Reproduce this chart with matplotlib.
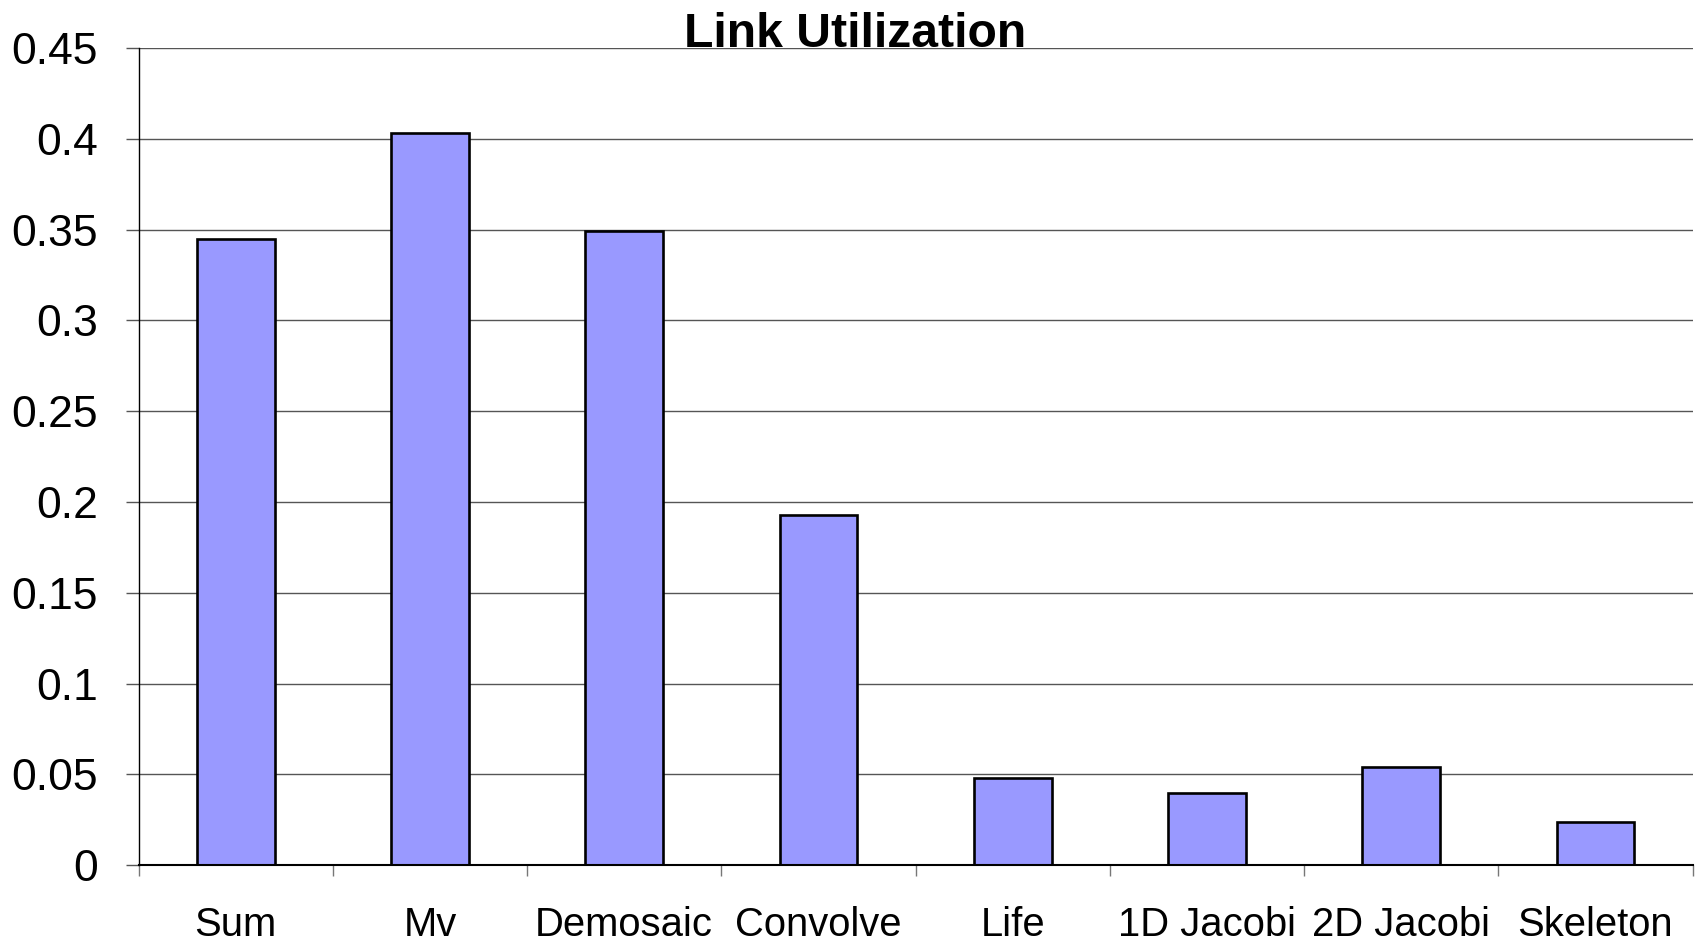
import matplotlib
matplotlib.use("Agg")
import matplotlib.pyplot as plt
import numpy as np

plt.rcParams["font.family"] = ["Liberation Sans", "DejaVu Sans"]

benchmarks = ["Sum", "Mv", "Demosaic", "Convolve", "Life",
              "1D Jacobi", "2D Jacobi", "Skeleton"]
utilization = [0.345, 0.403, 0.349, 0.193, 0.048, 0.040, 0.054, 0.024]
yticks = [0, 0.05, 0.1, 0.15, 0.2, 0.25, 0.3, 0.35, 0.4, 0.45]
ytick_labels = ["0", "0.05", "0.1", "0.15", "0.2", "0.25", "0.3", "0.35", "0.4", "0.45"]

fig = plt.figure(figsize=(16.98, 9.41), dpi=100)
ax = fig.add_axes([0.0816, 0.0805, 0.9152, 0.8685])

x = np.arange(len(benchmarks))
ax.bar(x, utilization, width=0.4, color="#9999FF", edgecolor="black",
       linewidth=1.9, zorder=3)

ax.set_xlim(-0.5, len(benchmarks) - 0.5)
ax.set_ylim(0, 0.45)

# horizontal gridlines only
ax.set_yticks(yticks)
ax.set_yticklabels(ytick_labels, fontsize=32)
ax.yaxis.grid(True, color="#555555", linewidth=1.0, zorder=0)
ax.tick_params(axis="y", length=9.4, width=1.0, color="#555555", pad=20)

# category labels centred, ticks on the category boundaries
ax.set_xticks(x)
ax.set_xticklabels(benchmarks, fontsize=28.8)
ax.set_xticks(np.arange(-0.5, len(benchmarks)), minor=True)
ax.tick_params(axis="x", which="major", length=0, pad=29)
ax.tick_params(axis="x", which="minor", length=8, width=1.0, color="#777777")

for side in ("top", "right"):
    ax.spines[side].set_visible(False)
ax.spines["left"].set_linewidth(1.0)
ax.spines["bottom"].set_linewidth(1.5)
ax.spines["left"].set_zorder(4)
ax.spines["bottom"].set_zorder(4)

fig.text(0.5034, 0.9504, "Link Utilization", fontsize=34.7, fontweight="bold",
         ha="center", va="baseline")

fig.savefig("out.png", dpi=100)
